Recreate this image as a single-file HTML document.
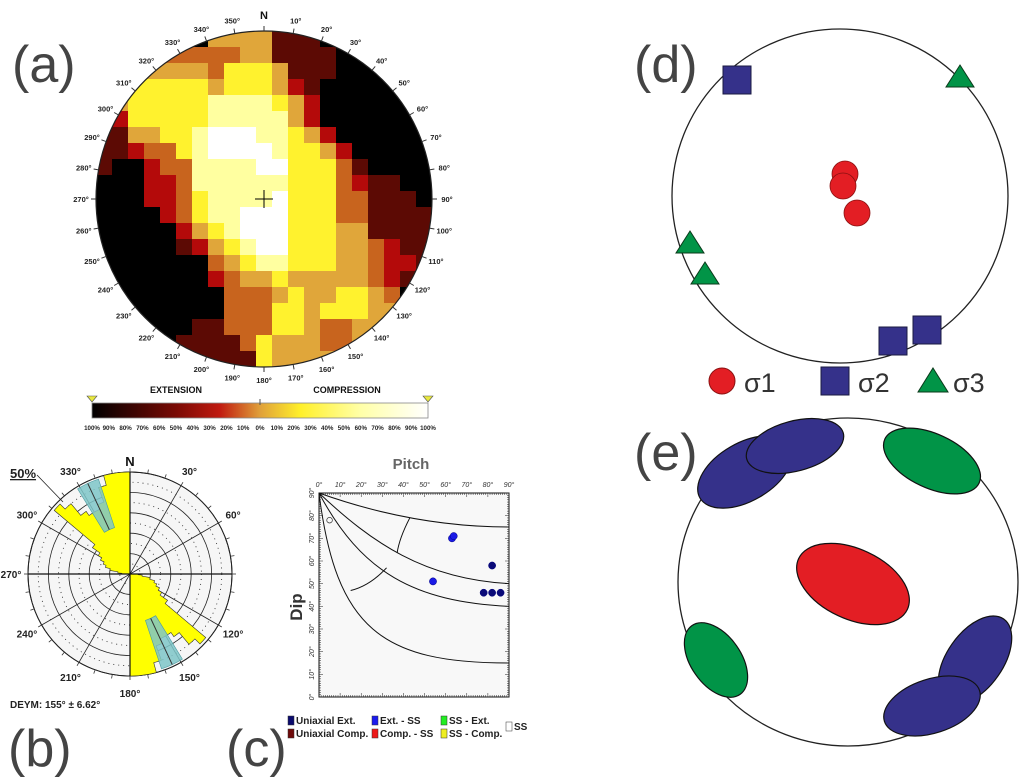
<!DOCTYPE html>
<html><head><meta charset="utf-8"><style>
body{margin:0;background:#fff;}
svg{display:block;font-family:"Liberation Sans",sans-serif;}
</style></head><body>
<svg id="fig" width="1029" height="778" viewBox="0 0 1029 778" xmlns="http://www.w3.org/2000/svg">
<defs>
<clipPath id="clipA"><circle cx="264" cy="199" r="168"/></clipPath>
<linearGradient id="cbar" x1="0" x2="1" y1="0" y2="0">
<stop offset="0" stop-color="#000"/><stop offset="0.25" stop-color="#7a0a04"/><stop offset="0.38" stop-color="#c01a10"/><stop offset="0.5" stop-color="#e0a03a"/><stop offset="0.62" stop-color="#fff02a"/><stop offset="0.8" stop-color="#ffffa8"/><stop offset="1" stop-color="#fff"/>
</linearGradient>
</defs>
<g font-family="Liberation Sans,sans-serif" fill="#444" font-size="52">
<text x="12" y="82">(a)</text>
<text x="8" y="766">(b)</text>
<text x="226" y="766">(c)</text>
<text x="634" y="82">(d)</text>
<text x="634" y="470">(e)</text>
</g>
<g id="pa"></g>
<g id="pb"></g>
<g id="pc"></g>
<g id="pd"></g>
<g id="pe"></g>
</svg>
<script>
// ---------- Panel (a) heatmap data ----------
const gridRows = [
"000000044441110000000",
"000333333441111000000",
"004444435554111000000",
"055555545554210000000",
"245555566665420000000",
"025555566666420000000",
"114455677766542000000",
"112335677776554200000",
"100233666677555310000",
"000223666666555321100",
"000223566667555331110",
"000023566777555331111",
"000002456777555441111",
"000001245677555443211",
"000000034566555443221",
"000000023445444443210",
"000000003334544554300",
"000000003335545554400",
"000000113335543344000",
"000001111354443340000",
"000000111154444000000"];
const levelColors = ["#000000","#5c0a04","#b40a0a","#c8641e","#e0a63a","#fff22e","#ffffa0","#ffffff"];
const azimuthLabels = [10,20,30,40,50,60,70,80,90,100,110,120,130,140,150,160,170,180,190,200,210,220,230,240,250,260,270,280,290,300,310,320,330,340,350];
const cbarLabels = ["100%","90%","80%","70%","60%","50%","40%","30%","20%","10%","0%","10%","20%","30%","40%","50%","60%","70%","80%","90%","100%"];

// ---------- Panel (b) rose data (5° bins from 270° to 360°, axial) ----------
const roseBinStart = [270,275,280,285,290,295,300,305,310,315,320,325,330,335,340,345,350,355];
const roseLength = [0.08,0.12,0.2,0.25,0.28,0.32,0.36,0.45,0.97,0.9,0.75,0.7,0.7,0.75,0.9,1.0,1.0,1.0];
const roseAngleLabels = [30,60,120,150,180,210,240,270,300,330];
const meanDir = [155];
const meanErr = [6.62];

// ---------- Panel (c) data ----------
const pitchVals = [63,63.8,82,54,78,82,86];
const dipVals = [70,71,58,51,46,46,46];
const openPitch = [5];
const openDip = [78];
const pitchTicks = [0,10,20,30,40,50,60,70,80,90];
const dipTicks = [0,10,20,30,40,50,60,70,80,90];
const boundaryEndDip = [75,50,40,15];

// ---------- Panel (d) data ----------
const s1x=[845,843,857], s1y=[174,186,213];
const s2x=[737,893,927], s2y=[80,341,330];
const s3x=[960,690,705], s3y=[77,243,274];

// ---------- Panel (e) ellipse data ----------
const ellCx=[745,795,932,853,716,975,932];
const ellCy=[472,446,461,584,660,660,706];
const ellRx=[52,50,52,60,42,50,50];
const ellRy=[29,25,27,35,25,28,27];
const ellRot=[-30,-15,25,25,55,-55,-18];
const ellCol=["#35318a","#35318a","#019447","#e31e24","#019447","#35318a","#35318a"];

const NS="http://www.w3.org/2000/svg";
function mk(tag,attrs,parent){const e=document.createElementNS(NS,tag);for(const k in attrs)e.setAttribute(k,attrs[k]);parent.appendChild(e);return e;}

// ===== Panel A =====
const pa=document.getElementById('pa');
const ACX=264,ACY=199,AR=168,CELL=16;
const heat=mk('g',{'clip-path':'url(#clipA)'},pa);


gridRows.forEach((row,j)=>{for(let i=0;i<row.length;i++){
 const c=mk('rect',{x:ACX-AR+i*CELL,y:ACY-AR+j*CELL,width:CELL+0.5,height:CELL+0.5,fill:levelColors[+row[i]]},heat);
 
 
}});
const ac=mk('circle',{cx:ACX,cy:ACY,r:AR,fill:'none',stroke:'#222','stroke-width':1.2},pa);


mk('line',{x1:ACX-9,y1:ACY,x2:ACX+9,y2:ACY,stroke:'#000','stroke-width':1},pa);
mk('line',{x1:ACX,y1:ACY-9,x2:ACX,y2:ACY+9,stroke:'#000','stroke-width':1},pa);
const nA=mk('text',{x:ACX,y:ACY-AR-12,'text-anchor':'middle','font-size':11,'font-weight':'bold',fill:'#111'},pa);nA.textContent='N';


mk('line',{x1:ACX,y1:ACY-AR,x2:ACX,y2:ACY-AR-5,stroke:'#333'},pa);
azimuthLabels.forEach(a=>{
 const t=a*Math.PI/180,s=Math.sin(t),c=-Math.cos(t);
 mk('line',{x1:ACX+s*AR,y1:ACY+c*AR,x2:ACX+s*(AR+5),y2:ACY+c*(AR+5),stroke:'#333','stroke-width':1},pa);
 const tx=mk('text',{x:ACX+s*(AR+15),y:ACY+c*(AR+13)+3,'text-anchor':'middle','font-size':7.5,'font-weight':'bold',fill:'#222'},pa);
 tx.textContent=a+'°';
 
 
});
const cb=mk('rect',{x:92,y:403,width:336,height:15,fill:'url(#cbar)',stroke:'#888','stroke-width':0.8},pa);


mk('line',{x1:260,y1:399,x2:260,y2:405,stroke:'#555'},pa);
[92,428].forEach(x=>{const tr=mk('polygon',{points:`${x-5},396 ${x+5},396 ${x},402`,fill:'#e8e840',stroke:'#555','stroke-width':0.6},pa);
 
 });
const ex=mk('text',{x:176,y:393,'text-anchor':'middle','font-size':9,'font-weight':'bold',fill:'#111'},pa);ex.textContent='EXTENSION';


const cp=mk('text',{x:347,y:393,'text-anchor':'middle','font-size':9,'font-weight':'bold',fill:'#111'},pa);cp.textContent='COMPRESSION';


cbarLabels.forEach((l,i)=>{const t=mk('text',{x:92+i*336/20,y:430,'text-anchor':'middle','font-size':6.2,'font-weight':'bold',fill:'#222'},pa);t.textContent=l;
 
 });

// ===== Panel B =====
const pb=document.getElementById('pb');
const BCX=130,BCY=574,BR=102;
const bg=mk('circle',{cx:BCX,cy:BCY,r:BR,fill:'#f6f6f6',stroke:'#111','stroke-width':1},pb);


for(let k=1;k<=10;k++){const r=BR*k/10;mk('circle',{cx:BCX,cy:BCY,r:r,fill:'none',stroke:'#222','stroke-width':0.8,'stroke-dasharray':k%2==0?'none':'1 4'},pb);}
function pol(a,r){const t=a*Math.PI/180;return [BCX+Math.sin(t)*r,BCY-Math.cos(t)*r];}
for(let a=0;a<360;a+=10){const p1=pol(a,BR),p2=pol(a,BR+4);mk('line',{x1:p1[0],y1:p1[1],x2:p2[0],y2:p2[1],stroke:'#333','stroke-width':0.8},pb);}
for(let a=30;a<180;a+=30){if(a===90)continue;const p1=pol(a,BR),p2=pol(a+180,BR);mk('line',{x1:p1[0],y1:p1[1],x2:p2[0],y2:p2[1],stroke:'#222','stroke-width':0.8},pb);}
// petals as single outline per lobe
[0,180].forEach(off=>{
 let d=`M${BCX},${BCY}`;
 roseBinStart.forEach((a0,i)=>{const a=a0+off,r=roseLength[i]*BR;const p1=pol(a,r),p2=pol(a+5,r);
  d+=`L${p1[0]},${p1[1]}A${r},${r} 0 0 1 ${p2[0]},${p2[1]}`;});
 d+='Z';
 const w=mk('path',{d:d,fill:'#ffff00',stroke:'#333','stroke-width':0.6},pb);
 
 
});
// confidence wedges
[meanDir[0]+180,meanDir[0]].forEach(d=>{
 const a1=d-meanErr[0],a2=d+meanErr[0],r1=BR*0.48,r2=BR*0.98;
 const p1=pol(a1,r1),p2=pol(a1,r2),p3=pol(a2,r2),p4=pol(a2,r1);
 const w=mk('path',{d:`M${p1[0]},${p1[1]}L${p2[0]},${p2[1]}A${r2},${r2} 0 0 1 ${p3[0]},${p3[1]}L${p4[0]},${p4[1]}A${r1},${r1} 0 0 0 ${p1[0]},${p1[1]}Z`,fill:'#7ec6c8','fill-opacity':0.85,stroke:'#4a9aa0','stroke-width':0.6},pb);
 
 
 const q1=pol(d,r1),q2=pol(d,r2);mk('line',{x1:q1[0],y1:q1[1],x2:q2[0],y2:q2[1],stroke:'#333','stroke-width':1},pb);
});
mk('line',{x1:BCX-BR,y1:BCY,x2:BCX+BR,y2:BCY,stroke:'#111','stroke-width':1.2},pb);
mk('line',{x1:BCX,y1:BCY-BR,x2:BCX,y2:BCY+BR,stroke:'#111','stroke-width':1.2},pb);
const nb=mk('text',{x:BCX,y:BCY-BR-6,'text-anchor':'middle','font-size':13,'font-weight':'bold',fill:'#111'},pb);nb.textContent='N';


roseAngleLabels.forEach(a=>{const p=pol(a,BR+17);const t=mk('text',{x:p[0],y:p[1]+4,'text-anchor':'middle','font-size':10,'font-weight':'bold',fill:'#222'},pb);t.textContent=a+'°';
 
 });
const l50=mk('text',{x:10,y:478,'font-size':13,'font-weight':'bold',fill:'#222','text-decoration':'underline'},pb);l50.textContent='50%';


mk('line',{x1:37,y1:475,x2:63,y2:502,stroke:'#222','stroke-width':0.8},pb);
const dy=mk('text',{x:10,y:708,'font-size':10,'font-weight':'bold',fill:'#222'},pb);dy.textContent='DEYM: '+meanDir[0]+'° ± '+meanErr[0]+'°';



// ===== Panel C =====
const pc=document.getElementById('pc');
const X0=319,X1=509,Y0=697,Y1=493;
const xs=p=>X0+(X1-X0)*p/90, ys=d=>Y0-(Y0-Y1)*d/90;
const frame=mk('rect',{x:X0,y:Y1,width:X1-X0,height:Y0-Y1,fill:'#f8f8f8',stroke:'#111','stroke-width':1},pc);


for(let v=0;v<=90;v+=1){const L=v%10==0?4:2;
 mk('line',{x1:xs(v),y1:Y1,x2:xs(v),y2:Y1+L,stroke:'#222','stroke-width':0.5},pc);
 mk('line',{x1:xs(v),y1:Y0,x2:xs(v),y2:Y0-L,stroke:'#222','stroke-width':0.5},pc);
 mk('line',{x1:X0,y1:ys(v),x2:X0+L,y2:ys(v),stroke:'#222','stroke-width':0.5},pc);
 mk('line',{x1:X1,y1:ys(v),x2:X1-L,y2:ys(v),stroke:'#222','stroke-width':0.5},pc);}
pitchTicks.forEach(v=>{const t=mk('text',{x:xs(v),y:Y1-6,'text-anchor':'middle','font-size':7,'font-style':'italic',fill:'#333'},pc);t.textContent=v+'°';
 
 });
dipTicks.forEach(v=>{const t=mk('text',{x:0,y:0,'text-anchor':'middle','font-size':7,'font-style':'italic',fill:'#333',transform:`translate(${X0-5},${ys(v)}) rotate(-90)`},pc);t.textContent=v+'°';
 
 });
const pt=mk('text',{x:411,y:469,'text-anchor':'middle','font-size':15,'font-weight':'bold',fill:'#666'},pc);pt.textContent='Pitch';


const dt=mk('text',{x:0,y:0,'text-anchor':'middle','font-size':17,'font-weight':'bold',fill:'#333',transform:'translate(302,607) rotate(-90)'},pc);dt.textContent='Dip';


const ctrl=[[[30,80],[60,75]],[[25,68],[50,52]],[[20,55],[45,42]],[[8,30],[30,15]]];
boundaryEndDip.forEach((d,i)=>{const c=ctrl[i];
 const p=mk('path',{d:`M${xs(0)},${ys(90)}C${xs(c[0][0])},${ys(c[0][1])} ${xs(c[1][0])},${ys(c[1][1])} ${xs(90)},${ys(d)}`,fill:'none',stroke:'#111','stroke-width':1},pc);
 
 });
mk('path',{d:`M${xs(43)},${ys(79)}Q${xs(38)},${ys(70)} ${xs(37)},${ys(63.5)}`,fill:'none',stroke:'#111','stroke-width':1},pc);
mk('path',{d:`M${xs(32)},${ys(57)}Q${xs(24)},${ys(49)} ${xs(15)},${ys(47)}`,fill:'none',stroke:'#111','stroke-width':1},pc);
pitchVals.forEach((p,i)=>{const c=mk('circle',{cx:xs(p),cy:ys(dipVals[i]),r:3.6,fill:i<4&&i!==2?'#1a1ae6':'#0a0a78',stroke:'#000080','stroke-width':0.5},pc);
 
 });
openPitch.forEach((p,i)=>{const c=mk('circle',{cx:xs(p),cy:ys(openDip[i]),r:2.8,fill:'none',stroke:'#333','stroke-width':0.7},pc);
 
 });
const leg=[[288,724,'#0a0a6e','Uniaxial Ext.'],[372,724,'#1a1aee','Ext. - SS'],[441,724,'#22ee22','SS - Ext.'],[288,737,'#6e0a0a','Uniaxial Comp.'],[372,737,'#ee1a1a','Comp. - SS'],[441,737,'#eeee22','SS - Comp.'],[506,730,'#fff','SS']];
leg.forEach(([x,y,c,l])=>{const g=mk('g',{},pc);
 
 
 mk('rect',{x:x,y:y-8,width:6,height:9,fill:c,stroke:'#333','stroke-width':0.5},g);
 const t=mk('text',{x:x+8,y:y,'font-size':10,'font-weight':'bold',fill:'#222'},g);t.textContent=l;});

// ===== Panel D =====
const pd=document.getElementById('pd');
const dc=mk('ellipse',{cx:840,cy:196,rx:168,ry:167,fill:'none',stroke:'#222','stroke-width':1.3},pd);


s1x.forEach((x,i)=>{const c=mk('circle',{cx:x,cy:s1y[i],r:13,fill:'#e31e24',stroke:'#8a1010','stroke-width':0.8},pd);
 
 });
s2x.forEach((x,i)=>{const c=mk('rect',{x:x-14,y:s2y[i]-14,width:28,height:28,fill:'#35318a',stroke:'#1a1a40','stroke-width':1},pd);
 
 });
s3x.forEach((x,i)=>{const y=s3y[i];const c=mk('polygon',{points:`${x},${y-12} ${x+14},${y+10} ${x-14},${y+10}`,fill:'#019447',stroke:'#0a3a1a','stroke-width':1},pd);
 
 });
const lg=mk('g',{},pd);


mk('ellipse',{cx:722,cy:381,rx:13,ry:13,fill:'#e31e24',stroke:'#8a1010'},lg);
mk('rect',{x:821,y:367,width:28,height:28,fill:'#35318a',stroke:'#1a1a40'},lg);
mk('polygon',{points:`933,368 948,392 918,392`,fill:'#019447',stroke:'#0a3a1a'},lg);
[[744,'σ1'],[858,'σ2'],[953,'σ3']].forEach(([x,l])=>{const t=mk('text',{x:x,y:392,'font-size':27,fill:'#333'},lg);t.textContent=l;});

// ===== Panel E =====
const pe=document.getElementById('pe');
const ec=mk('ellipse',{cx:848,cy:582,rx:170,ry:164,fill:'none',stroke:'#222','stroke-width':1.3},pe);


ellCx.forEach((x,i)=>{const e=mk('ellipse',{cx:x,cy:ellCy[i],rx:ellRx[i],ry:ellRy[i],fill:ellCol[i],stroke:'#111','stroke-width':1.2,transform:`rotate(${ellRot[i]} ${x} ${ellCy[i]})`},pe);
 
 });
</script>
</body></html>
